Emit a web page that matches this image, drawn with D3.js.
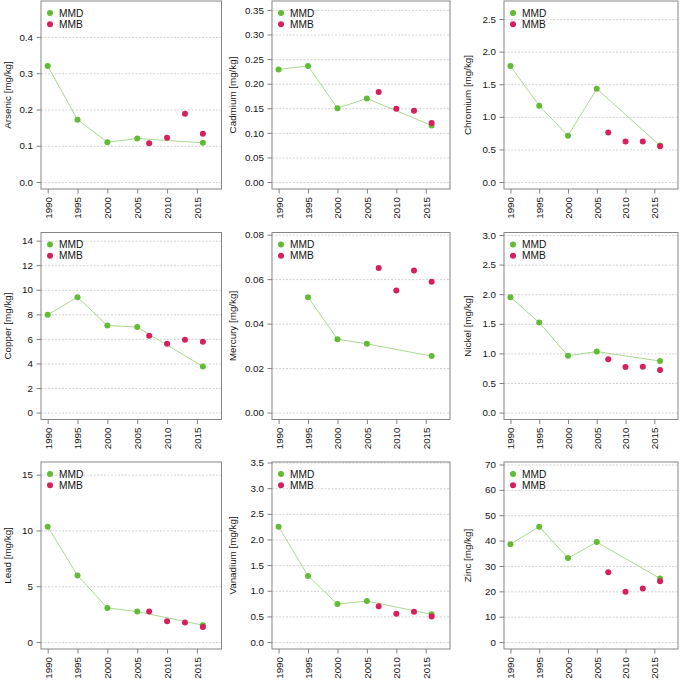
<!DOCTYPE html>
<html>
<head>
<meta charset="utf-8">
<script src="https://cdn.jsdelivr.net/npm/d3@7"></script>
<style>
  html, body { margin: 0; padding: 0; background: #fff; }
  svg { display: block; font-family: "Liberation Sans", Arial, Helvetica, sans-serif; }
</style>
</head>
<body>
<svg id="chart" width="685" height="682"></svg>
<script>
// ---------------- DATA ----------------
const elements = ["Arsenic", "Cadmium", "Chromium", "Copper", "Mercury", "Nickel", "Lead", "Vanadium", "Zinc"];
const seriesNames = ["MMD", "MMB"];
const mmdYears = [1990, 1995, 2000, 2005, 2016];
const mmbYears = [2007, 2010, 2013, 2016];
const xTickLabels = ["1990", "1995", "2000", "2005", "2010", "2015"];

const arsenicMMD  = [0.320, 0.172, 0.110, 0.120, 0.108];
const arsenicMMB  = [0.107, 0.122, 0.188, 0.133];
const cadmiumMMD  = [0.229, 0.236, 0.150, 0.170, 0.115];
const cadmiumMMB  = [0.183, 0.149, 0.145, 0.120];
const chromiumMMD = [1.78, 1.17, 0.71, 1.43, 0.56];
const chromiumMMB = [0.76, 0.62, 0.62, 0.55];
const copperMMD   = [7.96, 9.40, 7.09, 6.96, 3.75];
const copperMMB   = [6.25, 5.60, 5.93, 5.76];
const mercuryMMD  = [null, 0.0519, 0.0330, 0.0309, 0.0254];
const mercuryMMB  = [0.0650, 0.0549, 0.0639, 0.0588];
const nickelMMD   = [1.95, 1.52, 0.96, 1.03, 0.87];
const nickelMMB   = [0.90, 0.77, 0.775, 0.72];
const leadMMD     = [10.34, 5.97, 3.06, 2.73, 1.51];
const leadMMB     = [2.73, 1.87, 1.75, 1.34];
const vanadiumMMD = [2.25, 1.29, 0.74, 0.80, 0.54];
const vanadiumMMB = [0.70, 0.55, 0.59, 0.50];
const zincMMD     = [38.6, 45.5, 33.1, 39.4, 25.1];
const zincMMB     = [27.5, 19.8, 21.1, 24.0];

const arsenicTicks  = ["0.0", "0.1", "0.2", "0.3", "0.4"];
const cadmiumTicks  = ["0.00", "0.05", "0.10", "0.15", "0.20", "0.25", "0.30", "0.35"];
const chromiumTicks = ["0.0", "0.5", "1.0", "1.5", "2.0", "2.5"];
const copperTicks   = ["0", "2", "4", "6", "8", "10", "12", "14"];
const mercuryTicks  = ["0.00", "0.02", "0.04", "0.06", "0.08"];
const nickelTicks   = ["0.0", "0.5", "1.0", "1.5", "2.0", "2.5", "3.0"];
const leadTicks     = ["0", "5", "10", "15"];
const vanadiumTicks = ["0.0", "0.5", "1.0", "1.5", "2.0", "2.5", "3.0", "3.5"];
const zincTicks     = ["0", "10", "20", "30", "40", "50", "60", "70"];

const mmdValues = [arsenicMMD, cadmiumMMD, chromiumMMD, copperMMD, mercuryMMD, nickelMMD, leadMMD, vanadiumMMD, zincMMD];
const mmbValues = [arsenicMMB, cadmiumMMB, chromiumMMB, copperMMB, mercuryMMB, nickelMMB, leadMMB, vanadiumMMB, zincMMB];
const yTickLabels = [arsenicTicks, cadmiumTicks, chromiumTicks, copperTicks, mercuryTicks, nickelTicks, leadTicks, vanadiumTicks, zincTicks];

// ---------------- LAYOUT / STYLE ----------------
const colLeft   = [41, 272, 504];
const colRight  = [221.5, 450, 678];
const rowTop    = [1, 232.5, 462];
const rowBottom = [189, 419.5, 649];
const titleX    = [7.5, 233, 467.5];
const greenPt = "#62bb35";
const greenLine = "#a9da8f";
const magenta = "#d61f5c";
const textCol = "#141414";
const fontSize = 9.8;

const svg = d3.select("#chart");

elements.forEach((name, i) => {
  const col = i % 3, row = Math.floor(i / 3);
  const L = colLeft[col], R = colRight[col], T = rowTop[row], B = rowBottom[row];
  const mmd = mmdValues[i], mmb = mmbValues[i];
  const ticks = yTickLabels[i];
  const yMax = d3.max(mmd) * 1.5;

  const x = d3.scaleLinear().domain([1990 - 0.04 * 28, 2018 + 0.04 * 28]).range([L, R]);
  const y = d3.scaleLinear().domain([-0.04 * yMax, 1.04 * yMax]).range([B, T]);

  const g = svg.append("g");

  // grid
  const grid = g.append("g").attr("transform", `translate(${L},0)`)
    .call(d3.axisLeft(y).tickValues(ticks.map(Number)).tickSize(-(R - L)).tickFormat(""));
  grid.select(".domain").remove();
  grid.selectAll("line").attr("stroke", "#c8c8c8").attr("stroke-width", 0.8).attr("stroke-dasharray", "2,1.5");

  // y axis
  const yAx = g.append("g").attr("transform", `translate(${L},0)`)
    .call(d3.axisLeft(y).tickValues(ticks.map(Number)).tickSize(4.5).tickPadding(3.5)
      .tickFormat((d, k) => ticks[k]));
  yAx.select(".domain").remove();
  yAx.selectAll("line").attr("stroke", "#808080");
  yAx.selectAll("text").attr("fill", textCol).style("font-size", fontSize + "px");

  // x axis
  const xAx = g.append("g").attr("transform", `translate(0,${B})`)
    .call(d3.axisBottom(x).tickValues(xTickLabels.map(Number)).tickSize(4.5)
      .tickFormat((d, k) => xTickLabels[k]));
  xAx.select(".domain").remove();
  xAx.selectAll("line").attr("stroke", "#808080");
  xAx.selectAll("text")
    .attr("transform", "rotate(-90)")
    .attr("x", -8).attr("y", 0).attr("dy", "0.35em")
    .style("text-anchor", "end")
    .attr("fill", textCol).style("font-size", fontSize + "px");

  // frame
  g.append("rect").attr("x", L).attr("y", T).attr("width", R - L).attr("height", B - T)
    .attr("fill", "none").attr("stroke", "#858585").attr("stroke-width", 1);

  // y title
  g.append("text")
    .attr("transform", `translate(${titleX[col]},${(T + B) / 2}) rotate(-90)`)
    .attr("text-anchor", "middle").attr("dy", "0.35em")
    .attr("fill", textCol).style("font-size", fontSize + "px")
    .text(`${name} [mg/kg]`);

  // MMD line
  const mmdPts = mmdYears.map((yr, k) => ({ yr, v: mmd[k] })).filter(d => d.v != null);
  const mmbPts = mmbYears.map((yr, k) => ({ yr, v: mmb[k] }));
  g.append("path").datum(mmdPts)
    .attr("d", d3.line().x(d => x(d.yr)).y(d => y(d.v)))
    .attr("fill", "none").attr("stroke", greenLine).attr("stroke-width", 1);

  g.selectAll(".mmd").data(mmdPts).enter().append("circle")
    .attr("cx", d => x(d.yr)).attr("cy", d => y(d.v)).attr("r", 3).attr("fill", greenPt);
  g.selectAll(".mmb").data(mmbPts).enter().append("circle")
    .attr("cx", d => x(d.yr)).attr("cy", d => y(d.v)).attr("r", 3).attr("fill", magenta);

  // legend
  const cols = [greenPt, magenta];
  seriesNames.forEach((s, k) => {
    const ly = T + 12 + k * 11.3;
    g.append("circle").attr("cx", L + 9).attr("cy", ly).attr("r", 3).attr("fill", cols[k]);
    g.append("text").attr("x", L + 18).attr("y", ly).attr("dy", "0.35em")
      .attr("fill", textCol).style("font-size", (fontSize + 0.4) + "px").text(s);
  });
});
</script>
</body>
</html>
